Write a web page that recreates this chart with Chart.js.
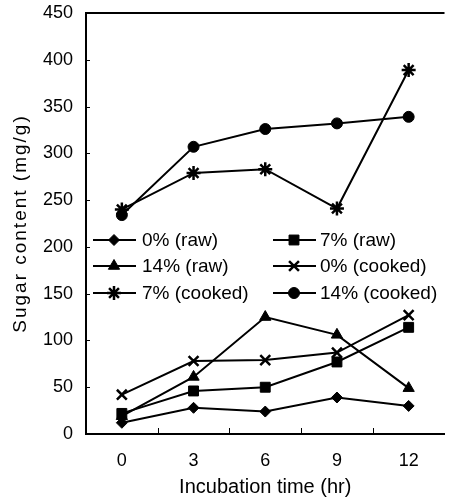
<!DOCTYPE html>
<html><head><meta charset="utf-8">
<script src="https://cdn.jsdelivr.net/npm/chart.js@4.4.1/dist/chart.umd.min.js"></script>
<style>html,body{margin:0;padding:0;background:#fff}#wrap{width:454px;height:501px}</style>
</head><body><div id="wrap"><canvas id="c" width="454" height="501"></canvas></div>
<script>
// ---- data ----
const categories = ['0', '3', '6', '9', '12'];
const yTickValues = [0, 50, 100, 150, 200, 250, 300, 350, 400, 450];
const seriesNames = ['0% (raw)', '7% (raw)', '14% (raw)', '0% (cooked)', '7% (cooked)', '14% (cooked)'];
const raw0 = [12, 28, 24, 39, 30];
const raw7 = [22, 46, 50, 77, 114];
const raw14 = [19, 61, 125, 106, 49];
const cooked0 = [42, 78, 79, 87, 127];
const cooked7 = [240, 279, 283, 241, 389];
const cooked14 = [234, 307, 326, 332, 339];
const xTitle = 'Incubation time (hr)';
const yTitle = 'Sugar content (mg/g)';

// ---- styles ----
const FONT = '"Liberation Sans", Arial, Helvetica, sans-serif';
const styles = [
  {pointStyle: 'rectRot', radius: 5.5, bw: 1},
  {pointStyle: 'rect', radius: 7, bw: 1},
  {pointStyle: 'triangle', radius: 6.5, bw: 1},
  {pointStyle: 'crossRot', radius: 7, bw: 2.5},
  {pointStyle: 'star', radius: 7, bw: 2.5},
  {pointStyle: 'circle', radius: 5.5, bw: 1}
];
const allSeries = [raw0, raw7, raw14, cooked0, cooked7, cooked14];

const datasets = allSeries.map((d, i) => ({
  label: seriesNames[i],
  data: d,
  borderColor: '#000',
  backgroundColor: '#000',
  borderWidth: 2,
  pointStyle: styles[i].pointStyle,
  pointRadius: styles[i].radius,
  pointBorderWidth: styles[i].bw,
  pointBackgroundColor: '#000',
  pointBorderColor: '#000',
  tension: 0,
  fill: false
}));

function drawMarker(ctx, st, x, y) {
  ctx.fillStyle = '#000'; ctx.strokeStyle = '#000'; ctx.lineWidth = st.bw;
  if (Chart.helpers && Chart.helpers.drawPoint) {
    Chart.helpers.drawPoint(ctx, {pointStyle: st.pointStyle, radius: st.radius, borderWidth: st.bw, rotation: 0}, x, y);
  }
}

const framePlugin = {
  id: 'frame',
  afterDraw(chart) {
    const ctx = chart.ctx, a = chart.chartArea;
    const xs = chart.scales.x, ys = chart.scales.y;
    ctx.save();
    ctx.strokeStyle = '#000';
    ctx.lineWidth = 2;
    // top border
    ctx.beginPath(); ctx.moveTo(a.left - 1, a.top); ctx.lineTo(a.right, a.top); ctx.stroke();
    // inner ticks
    ctx.lineWidth = 1;
    for (let i = 1; i < categories.length; i++) {
      const x = Math.round((xs.getPixelForValue(i - 1) + xs.getPixelForValue(i)) / 2) + 0.5;
      ctx.beginPath(); ctx.moveTo(x, a.bottom); ctx.lineTo(x, a.bottom - 6); ctx.stroke();
    }
    yTickValues.forEach(v => {
      const y = Math.round(ys.getPixelForValue(v)) + 0.5;
      ctx.beginPath(); ctx.moveTo(a.left, y); ctx.lineTo(a.left + 4, y); ctx.stroke();
    });
    // y title
    ctx.fillStyle = '#000';
    ctx.font = '19px ' + FONT;
    try { ctx.letterSpacing = '2px'; } catch (e) {}
    ctx.textAlign = 'center'; ctx.textBaseline = 'middle';
    ctx.translate(21, (a.top + a.bottom) / 2);
    ctx.rotate(-Math.PI / 2);
    ctx.fillText(yTitle, 0, 0);
    ctx.restore();

    // legend
    ctx.save();
    const colLine = [a.left + 7, a.left + 187];
    const colText = [a.left + 56, a.left + 234];
    const rowY = [240, 266, 293];
    ctx.font = '19px ' + FONT;
    ctx.textAlign = 'left'; ctx.textBaseline = 'middle';
    seriesNames.forEach((name, i) => {
      const c = i % 2, r = Math.floor(i / 2);
      const y = rowY[r];
      ctx.strokeStyle = '#000'; ctx.lineWidth = 2;
      ctx.beginPath(); ctx.moveTo(colLine[c], y); ctx.lineTo(colLine[c] + 43, y); ctx.stroke();
      drawMarker(ctx, styles[i], colLine[c] + 21, y);
      ctx.fillStyle = '#000';
      ctx.fillText(name, colText[c], y + 1);
    });
    ctx.restore();
  }
};

new Chart(document.getElementById('c'), {
  type: 'line',
  data: {labels: categories, datasets},
  options: {
    responsive: false,
    animation: false,
    devicePixelRatio: 1,
    layout: {padding: {top: 13, right: 0, left: 0, bottom: 0}},
    plugins: {legend: {display: false}, tooltip: {enabled: false}},
    scales: {
      x: {
        offset: true,
        grid: {display: false, drawTicks: false},
        border: {display: true, color: '#000', width: 2},
        ticks: {color: '#000', font: {family: FONT, size: 18}, padding: 16, maxRotation: 0},
        title: {display: true, text: xTitle, color: '#000', font: {family: FONT, size: 20}, padding: {top: 0, bottom: 2}},
        afterFit(s) { s.height = 67; s.paddingLeft = 0; s.paddingRight = 0; }
      },
      y: {
        min: 0, max: 450,
        afterBuildTicks(s) { s.ticks = yTickValues.map(v => ({value: v})); },
        grid: {display: false, drawTicks: false},
        border: {display: true, color: '#000', width: 2},
        ticks: {color: '#000', font: {family: FONT, size: 18}, padding: 13},
        afterFit(s) { s.width = 86; s.paddingTop = 0; s.paddingBottom = 0; }
      }
    }
  },
  plugins: [framePlugin]
});
</script>
</body></html>
